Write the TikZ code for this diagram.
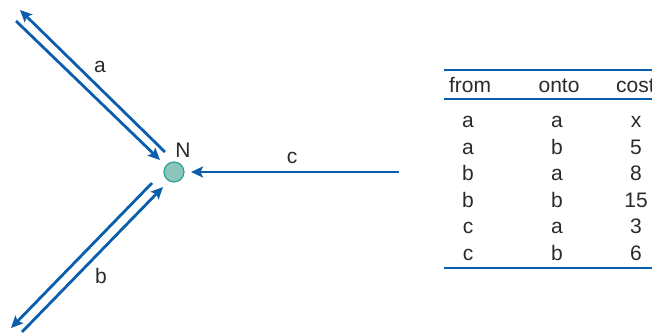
\documentclass[tikz,border=0pt]{standalone}
\usepackage{fontspec}
\setmainfont{Liberation Sans}
\usetikzlibrary{arrows.meta}
\definecolor{edgeblue}{HTML}{0A5EAD}
\definecolor{nodefill}{HTML}{8CC5BC}
\definecolor{nodeline}{HTML}{2AA596}
\definecolor{txt}{HTML}{2A2A2A}
\tikzset{
  edge/.style={draw=edgeblue, line width=2.8pt,
    -{Stealth[length=12pt,width=11pt,inset=2.5pt]}},
  vertex/.style={circle, fill=nodefill, draw=nodeline, line width=1.2pt,
    minimum size=20pt, inner sep=0pt},
  lbl/.style={text=txt, font=\fontsize{21}{24}\selectfont, inner sep=0pt,
    anchor=base},
  rule/.style={draw=edgeblue, line width=2.8pt},
}
\begin{document}
\begin{tikzpicture}[x=1pt, y=-1pt]
\useasboundingbox (0,0) rectangle (652,332);
% the junction node
\node[vertex] (N) at (174,172) {};
\node[lbl] (Nlbl) at (183,157) {N};
% end points of the three lines
\coordinate (aout0) at (165,152);
\coordinate (aout1) at (20,10);
\coordinate (ain0) at (16,21);
\coordinate (ain1) at (160,160);
\coordinate (bout0) at (152,183);
\coordinate (bout1) at (11,328);
\coordinate (bin0) at (22,332);
\coordinate (bin1) at (163,187);
\coordinate (cin0) at (399,172);
\coordinate (cin1) at (191,172);
\draw[edge] (aout0) -- (aout1);
\draw[edge] (ain0) -- (ain1);
\draw[edge] (bout0) -- (bout1);
\draw[edge] (bin0) -- (bin1);
\draw[edge] (cin0) -- (cin1);
\node[lbl] (la) at (100,72) {a};
\node[lbl] (lb) at (101,283) {b};
\node[lbl] (lc) at (292,163) {c};
% cost table
\coordinate (r0l) at (444,70);  \coordinate (r0r) at (660,70);
\coordinate (r1l) at (444,99);  \coordinate (r1r) at (660,99);
\coordinate (r2l) at (444,268); \coordinate (r2r) at (660,268);
\draw[rule] (r0l) -- (r0r);
\draw[rule, line width=1.8pt] (r1l) -- (r1r);
\draw[rule] (r2l) -- (r2r);
\node[lbl] (h1) at (470,92) {from};
\node[lbl] (h2) at (559,92) {onto};
\node[lbl, anchor=base west] (h3) at (616,92) {cost};
\foreach \f/\o/\c [count=\i] in {a/a/x, a/b/5, b/a/8, b/b/15, c/a/3, c/b/6}{
  \node[lbl] (f\i) at (468,{127.5+26.6*(\i-1)}) {\f};
  \node[lbl] (o\i) at (557,{127.5+26.6*(\i-1)}) {\o};
  \node[lbl] (c\i) at (636,{127.5+26.6*(\i-1)}) {\c};
}
\end{tikzpicture}
\end{document}
